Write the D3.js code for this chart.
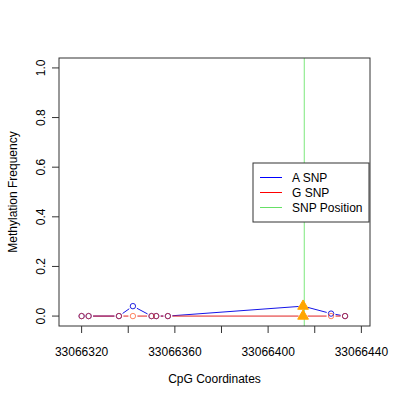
<!DOCTYPE html>
<html>
<head>
<meta charset="utf-8">
<script src="https://cdn.jsdelivr.net/npm/d3@7"></script>
<style>
  body { margin: 0; background: #fff; }
  text { font-family: "Liberation Sans", Arial, sans-serif; }
</style>
</head>
<body>
<svg width="400" height="400"></svg>
<script>
// CpG positions and methylation frequency for each allele
var positions = [33066320, 33066323, 33066336, 33066342, 33066350, 33066352, 33066357, 33066415, 33066427, 33066433];
var aSNP = [0, 0, 0, 0.04, 0, 0, 0, 0.04, 0.01, 0];
var gSNP = [0, 0, 0, 0, 0, 0, 0, 0, 0, 0];
var snpPos = 33066415.5;
var xTicks = [33066320, 33066340, 33066360, 33066380, 33066400, 33066420, 33066440];
var xTickLabels = [33066320, 33066360, 33066400, 33066440];
var yTicks = [0, 0.2, 0.4, 0.6, 0.8, 1.0];
var legendNames = ["A SNP", "G SNP", "SNP Position"];

var svg = d3.select("svg");
var pL = 59, pR = 370, pT = 58, pB = 326;

var x = d3.scaleLinear().domain([33066310.3, 33066443.7]).range([pL, pR]);
var y = d3.scaleLinear().domain([-0.04, 1.04]).range([pB, pT]);

// snp line
svg.append("line")
  .attr("x1", x(snpPos)).attr("x2", x(snpPos))
  .attr("y1", pT).attr("y2", pB)
  .attr("stroke", "#7CE87C").attr("stroke-width", 1);

// lines with gaps around points (like R type="b")
function gapLines(vals, color) {
  var segs = [];
  for (var i = 0; i < vals.length - 1; i++) {
    var x1 = x(positions[i]), y1 = y(vals[i]), x2 = x(positions[i + 1]), y2 = y(vals[i + 1]);
    var len = Math.hypot(x2 - x1, y2 - y1), gap = 4.5;
    if (len <= gap * 2) continue;
    var ux = (x2 - x1) / len, uy = (y2 - y1) / len;
    segs.push([x1 + ux * gap, y1 + uy * gap, x2 - ux * gap, y2 - uy * gap]);
  }
  svg.append("g").selectAll("line").data(segs).enter().append("line")
    .attr("x1", function (d) { return d[0]; })
    .attr("y1", function (d) { return d[1]; })
    .attr("x2", function (d) { return d[2]; })
    .attr("y2", function (d) { return d[3]; })
    .attr("stroke", color).attr("stroke-width", 1);
}
gapLines(aSNP, "#1515E8");
gapLines(gSNP, "#E02020");

function isSnp(i) { return Math.abs(positions[i] - snpPos) < 1; }

// circles
function points(vals, color, op) {
  svg.append("g").selectAll("circle")
    .data(vals.map(function (v, i) { return [positions[i], v, i]; }).filter(function (d) { return !isSnp(d[2]); }))
    .enter().append("circle")
    .attr("cx", function (d) { return x(d[0]); })
    .attr("cy", function (d) { return y(d[1]); })
    .attr("r", 2.7)
    .attr("fill", "none")
    .attr("stroke", color).attr("stroke-opacity", op).attr("stroke-width", 1);
}
points(aSNP, "#2020E0", 1);
points(gSNP, "#FF3A00", 0.62);

// triangles at the snp site
var tri = d3.symbol().type(d3.symbolTriangle).size(50);
[aSNP, gSNP].forEach(function (vals) {
  svg.append("g").selectAll("path")
    .data(vals.map(function (v, i) { return [positions[i], v, i]; }).filter(function (d) { return isSnp(d[2]); }))
    .enter().append("path")
    .attr("d", tri)
    .attr("transform", function (d) { return "translate(" + x(d[0]) + "," + y(d[1]) + ")"; })
    .attr("fill", "#FFA500").attr("stroke", "#FFA500");
});

// box
svg.append("rect")
  .attr("x", pL).attr("y", pT).attr("width", pR - pL).attr("height", pB - pT)
  .attr("fill", "none").attr("stroke", "#333").attr("stroke-width", 1);

// x axis
var gx = svg.append("g").attr("transform", "translate(0," + pB + ")");
gx.selectAll("line").data(xTicks).enter().append("line")
  .attr("x1", function (d) { return x(d); }).attr("x2", function (d) { return x(d); })
  .attr("y1", 0).attr("y2", 7).attr("stroke", "#333");
gx.selectAll("text").data(xTickLabels).enter().append("text")
  .attr("x", function (d) { return x(d); }).attr("y", 30)
  .attr("text-anchor", "middle").style("font-size", "12px").text(function (d) { return d; });

// y axis
var gy = svg.append("g").attr("transform", "translate(" + pL + ",0)");
gy.selectAll("line").data(yTicks).enter().append("line")
  .attr("x1", -7).attr("x2", 0)
  .attr("y1", function (d) { return y(d); }).attr("y2", function (d) { return y(d); })
  .attr("stroke", "#333");
gy.selectAll("text").data(yTicks).enter().append("text")
  .attr("transform", function (d) { return "translate(-14," + y(d) + ")rotate(-90)"; })
  .attr("text-anchor", "middle").style("font-size", "12px")
  .text(function (d) { return d.toFixed(1); });

// axis titles
svg.append("text").attr("x", (pL + pR) / 2).attr("y", 383)
  .attr("text-anchor", "middle").style("font-size", "12px").text("CpG Coordinates");
svg.append("text").attr("transform", "translate(17," + (pT + pB) / 2 + ")rotate(-90)")
  .attr("text-anchor", "middle").style("font-size", "12px").text("Methylation Frequency");

// legend
var legColors = ["#0000FF", "#FF0000", "#66E066"];
var leg = svg.append("g");
leg.append("rect").attr("x", 253).attr("y", 163).attr("width", 116).attr("height", 59)
  .attr("fill", "#fff").attr("stroke", "#333");
legendNames.forEach(function (n, i) {
  var ly = 177.5 + i * 15;
  leg.append("line").attr("x1", 260).attr("x2", 282).attr("y1", ly).attr("y2", ly)
    .attr("stroke", legColors[i]);
  leg.append("text").attr("x", 292).attr("y", ly + 4).style("font-size", "12px").text(n);
});
</script>
</body>
</html>
